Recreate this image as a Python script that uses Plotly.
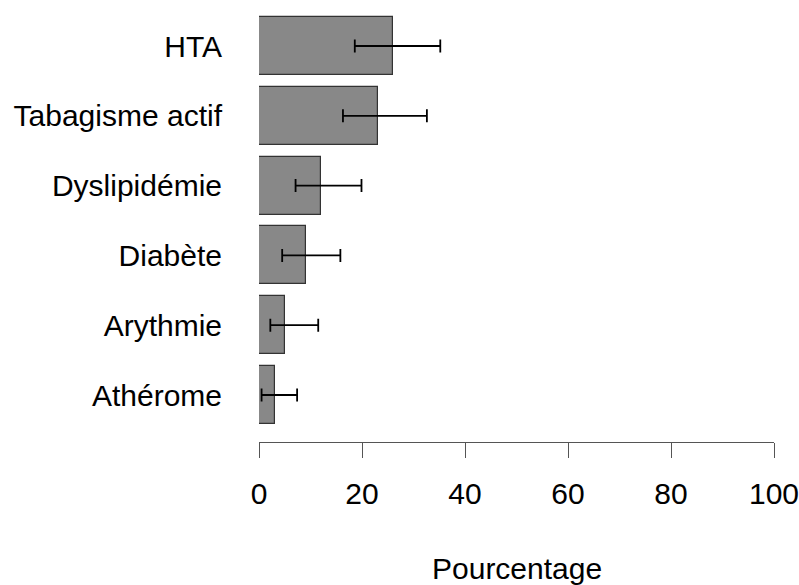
import plotly.graph_objects as go

categories = ["HTA", "Tabagisme actif", "Dyslipidémie", "Diabète", "Arythmie", "Athérome"]
values = [26.1, 23.2, 12.1, 9.2, 5.1, 3.1]
ci_low = [18.6, 16.3, 7.1, 4.5, 2.2, 0.5]
ci_high = [35.2, 32.6, 19.9, 15.8, 11.5, 7.4]
x_ticks = [0, 20, 40, 60, 80, 100]

n = len(categories)
ypos = [n - 1 - i for i in range(n)]
err_plus = [h - v for h, v in zip(ci_high, values)]
err_minus = [v - l for v, l in zip(values, ci_low)]

font_family = "Liberation Sans, Arial, sans-serif"
fs = 30

fig = go.Figure()
fig.add_trace(go.Bar(
    x=values, y=ypos, orientation="h", width=0.83,
    marker=dict(color="#888888", line=dict(color="#333333", width=1.2)),
    error_x=dict(type="data", symmetric=False, array=err_plus, arrayminus=err_minus,
                 color="black", thickness=1.8, width=6.5),
    showlegend=False, hoverinfo="skip",
))

fig.update_layout(
    width=799, height=585,
    margin=dict(l=259, r=25, t=10, b=143, autoexpand=False),
    plot_bgcolor="white", paper_bgcolor="white",
    font=dict(family=font_family, size=fs, color="black"),
    bargap=0,
    xaxis=dict(range=[0, 100], tickvals=x_ticks, ticktext=[str(t) for t in x_ticks],
               showline=True, linecolor="#555555", linewidth=1.2,
               ticks="outside", ticklen=15, tickwidth=1.2, tickcolor="#555555",
               showgrid=False, zeroline=False, ticklabelstandoff=10,
               automargin=False, ticklabeloverflow="allow",
               tickfont=dict(size=fs, family=font_family)),
    yaxis=dict(range=[-0.673, 5.516], tickvals=ypos, ticktext=categories,
               showline=False, showgrid=False, zeroline=False, ticks="",
               ticklabelstandoff=36, automargin=False, ticklabeloverflow="allow",
               tickfont=dict(size=fs, family=font_family)),
    annotations=[dict(text="Pourcentage", x=0.5, xref="paper", y=-0.2917, yref="paper",
                      xanchor="center", yanchor="middle", showarrow=False,
                      font=dict(size=fs, family=font_family))],
)

fig.write_html("out.html")
